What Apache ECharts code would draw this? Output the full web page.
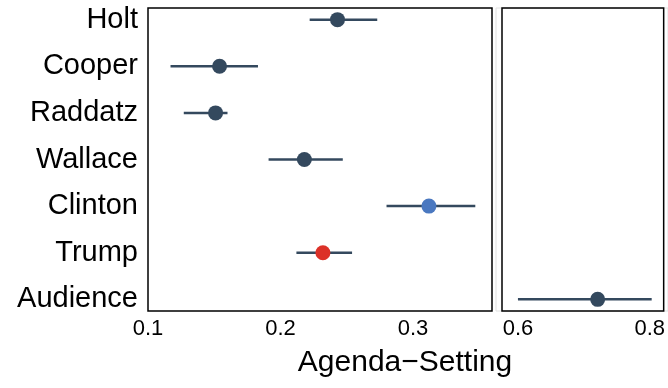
<!DOCTYPE html>
<html>
<head>
<meta charset="utf-8">
<script src="https://cdn.jsdelivr.net/npm/echarts@6/dist/echarts.min.js"></script>
<style>html,body{margin:0;padding:0;background:#fff}#c{width:668px;height:388px}</style>
</head>
<body>
<div id="c"></div>
<script>
var categories = ['Holt', 'Cooper', 'Raddatz', 'Wallace', 'Clinton', 'Trump', 'Audience'];
var estimates  = [0.243, 0.154, 0.151, 0.218, 0.312, 0.232, 0.721];
var lower      = [0.222, 0.117, 0.127, 0.191, 0.280, 0.212, 0.600];
var upper      = [0.273, 0.183, 0.160, 0.247, 0.347, 0.254, 0.803];
var panel      = [0, 0, 0, 0, 0, 0, 1];
var leftTicks  = [0.1, 0.2, 0.3];
var rightTicks = [0.6, 0.8];
var xTitle = 'Agenda\u2212Setting';

var baseColor = '#34495e';
var highlight = { Clinton: '#4a78c0', Trump: '#dc3128' };

function rowsFor(p) {
  var ci = [], pts = [];
  for (var i = 0; i < categories.length; i++) {
    if (panel[i] !== p) continue;
    ci.push([lower[i], upper[i], i]);
    pts.push({ value: [estimates[i], i], itemStyle: { color: highlight[categories[i]] || baseColor, opacity: 1 } });
  }
  return { ci: ci, pts: pts };
}
var L = rowsFor(0), R = rowsFor(1);

function renderCI(params, api) {
  var a = api.coord([api.value(0), api.value(2)]);
  var b = api.coord([api.value(1), api.value(2)]);
  return { type: 'line', shape: { x1: a[0], y1: a[1], x2: b[0], y2: b[1] },
           style: { stroke: baseColor, lineWidth: 2.5 } };
}

var font = 'Liberation Sans, Arial, Helvetica, sans-serif';
var yCommon = {
  type: 'value', min: -0.25, max: 6.25, inverse: true,
  axisLine: { show: false }, axisTick: { show: false }, splitLine: { show: false }
};

var chart = echarts.init(document.getElementById('c'));
chart.setOption({
  animation: false,
  backgroundColor: '#fff',
  grid: [
    { left: 496, top: 8, width: 220, height: 303, show: true, borderColor: '#e0e0e0', borderWidth: 1, backgroundColor: 'transparent', z: 0 },
    { left: 148, top: 8, width: 344, height: 303, show: true, borderColor: '#000', borderWidth: 1.5, backgroundColor: 'transparent', z: 1 },
    { left: 502, top: 8, width: 162, height: 303, show: true, borderColor: '#000', borderWidth: 1.5, backgroundColor: 'transparent', z: 1 }
  ],
  xAxis: [
    { gridIndex: 0, type: 'value', show: false, min: 0, max: 1 },
    { gridIndex: 1, type: 'value', min: 0.1, max: 0.3596, interval: 0.1,
      axisLine: { show: false }, axisTick: { show: false }, splitLine: { show: false },
      axisLabel: { fontSize: 22, color: '#000', fontFamily: font, margin: 7,
        customValues: leftTicks, formatter: function (v) { return v.toFixed(1); } } },
    { gridIndex: 2, type: 'value', min: 0.5758, max: 0.8212,
      axisLine: { show: false }, axisTick: { show: false }, splitLine: { show: false },
      axisLabel: { fontSize: 22, color: '#000', fontFamily: font, margin: 7,
        customValues: rightTicks, formatter: function (v) { return v.toFixed(1); } } }
  ],
  yAxis: [
    { gridIndex: 0, type: 'value', show: false, min: 0, max: 1 },
    Object.assign({ gridIndex: 1, axisLabel: { fontSize: 29, color: '#000', fontFamily: font, margin: 10,
      customValues: [0, 1, 2, 3, 4, 5, 6], formatter: function (v) { return categories[v]; } } }, yCommon),
    Object.assign({ gridIndex: 2, axisLabel: { show: false } }, yCommon)
  ],
  graphic: [{
    type: 'text', x: 405, y: 378,
    style: { text: xTitle, fontSize: 30, fontFamily: font, fill: '#000', textAlign: 'center', textVerticalAlign: 'bottom' }
  }],
  series: [
    { type: 'custom', xAxisIndex: 1, yAxisIndex: 1, renderItem: renderCI, data: L.ci, encode: { x: [0, 1], y: 2 }, z: 2 },
    { type: 'scatter', xAxisIndex: 1, yAxisIndex: 1, data: L.pts, symbolSize: 15, z: 3 },
    { type: 'custom', xAxisIndex: 2, yAxisIndex: 2, renderItem: renderCI, data: R.ci, encode: { x: [0, 1], y: 2 }, z: 2 },
    { type: 'scatter', xAxisIndex: 2, yAxisIndex: 2, data: R.pts, symbolSize: 15, z: 3 }
  ]
});
</script>
</body>
</html>
